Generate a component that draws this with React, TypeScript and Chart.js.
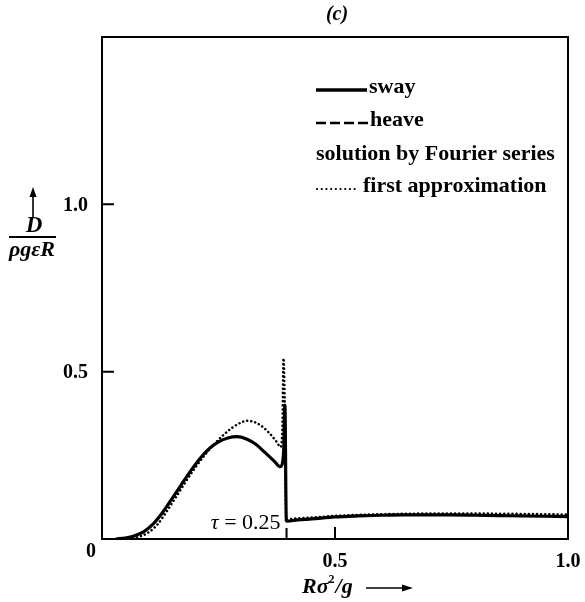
import React, { useEffect, useRef } from "react";
import { Chart, registerables } from "chart.js";

Chart.register(...registerables);

// ---- data ----
const swayX = [0.03, 0.05, 0.07, 0.09, 0.11, 0.13, 0.15, 0.17, 0.19, 0.21, 0.23, 0.25, 0.27, 0.29, 0.31, 0.33, 0.35, 0.37, 0.382, 0.387, 0.39, 0.3925, 0.3955, 0.397, 0.42, 0.45, 0.5, 0.55, 0.6, 0.65, 0.7, 0.75, 0.8, 0.85, 0.9, 0.95, 1.0];
const swayY = [0.0, 0.003, 0.01, 0.022, 0.045, 0.079, 0.12, 0.162, 0.203, 0.24, 0.27, 0.29, 0.302, 0.306, 0.299, 0.283, 0.258, 0.232, 0.216, 0.225, 0.27, 0.4, 0.055, 0.053, 0.057, 0.06, 0.066, 0.069, 0.071, 0.072, 0.072, 0.072, 0.071, 0.07, 0.069, 0.068, 0.067];

const approxX = [0.04, 0.06, 0.08, 0.1, 0.12, 0.14, 0.16, 0.18, 0.2, 0.22, 0.24, 0.26, 0.28, 0.3, 0.31, 0.32, 0.34, 0.36, 0.375, 0.383, 0.387, 0.3895, 0.392, 0.3955, 0.4, 0.45, 0.5, 0.55, 0.6, 0.7, 0.8, 0.9, 0.95, 1.0];
const approxY = [0.0, 0.002, 0.007, 0.02, 0.045, 0.085, 0.128, 0.172, 0.213, 0.25, 0.282, 0.31, 0.333, 0.349, 0.353, 0.352, 0.34, 0.315, 0.29, 0.275, 0.33, 0.54, 0.42, 0.058, 0.059, 0.064, 0.069, 0.072, 0.074, 0.076, 0.076, 0.075, 0.074, 0.073];

const xTicks = [0.5, 1.0];
const yTicks = [0.5, 1.0];
const tauX = 0.396;

const legendItems = ["sway", "heave", "solution by Fourier series", "first approximation"];

const FONT = "'Liberation Serif', 'DejaVu Serif', serif";

export default function App() {
  const ref = useRef<HTMLCanvasElement | null>(null);

  useEffect(() => {
    if (!ref.current) return;
    const toPts = (xs: number[], ys: number[]) => xs.map((x, i) => ({ x, y: ys[i] }));

    const decor = {
      id: "decor",
      afterDraw(chart: any) {
        const ctx = chart.ctx as CanvasRenderingContext2D;
        const a = chart.chartArea;
        const xs = chart.scales.x;
        const ys = chart.scales.y;
        ctx.save();
        ctx.strokeStyle = "#000";
        ctx.fillStyle = "#000";
        ctx.lineWidth = 2;
        ctx.strokeRect(a.left, a.top, a.right - a.left, a.bottom - a.top);
        // inward ticks
        ctx.beginPath();
        yTicks.forEach((v) => {
          const p = ys.getPixelForValue(v);
          ctx.moveTo(a.left, p);
          ctx.lineTo(a.left + 12, p);
        });
        xTicks.forEach((v) => {
          if (v >= 1) return;
          const p = xs.getPixelForValue(v);
          ctx.moveTo(p, a.bottom);
          ctx.lineTo(p, a.bottom - 12);
        });
        const tp = xs.getPixelForValue(tauX);
        ctx.moveTo(tp, a.bottom);
        ctx.lineTo(tp, a.bottom - 11);
        ctx.stroke();

        // origin label
        ctx.font = `bold 20px ${FONT}`;
        ctx.textAlign = "center";
        ctx.textBaseline = "middle";
        ctx.fillText("0", a.left - 11, a.bottom + 13);

        // tau label
        ctx.textAlign = "right";
        const tauTxtX = tp - 6;
        const tauY = a.bottom - 16;
        ctx.font = `22px ${FONT}`;
        const rest = " = 0.25";
        const wRest = ctx.measureText(rest).width;
        ctx.fillText(rest, tauTxtX, tauY);
        ctx.font = `italic 22px ${FONT}`;
        ctx.fillText("τ", tauTxtX - wRest, tauY);

        // legend
        ctx.textAlign = "left";
        ctx.font = `bold 22px ${FONT}`;
        const lx = 316;
        const rows = [89, 122, 154, 186];
        // sway
        ctx.lineWidth = 3.5;
        ctx.setLineDash([]);
        ctx.beginPath();
        ctx.moveTo(lx, rows[0] + 1);
        ctx.lineTo(lx + 51, rows[0] + 1);
        ctx.stroke();
        ctx.fillText(legendItems[0], lx + 53, rows[0] - 2);
        // heave
        ctx.lineWidth = 2.5;
        ctx.setLineDash([10, 4]);
        ctx.beginPath();
        ctx.moveTo(lx, rows[1] + 1);
        ctx.lineTo(lx + 53, rows[1] + 1);
        ctx.stroke();
        ctx.setLineDash([]);
        ctx.fillText(legendItems[1], lx + 54, rows[1] - 2);
        ctx.fillText(legendItems[2], lx, rows[2]);
        // approx
        ctx.lineWidth = 2.2;
        ctx.lineCap = "round";
        ctx.setLineDash([0.1, 4.6]);
        ctx.beginPath();
        ctx.moveTo(lx + 1, rows[3] + 3);
        ctx.lineTo(lx + 42, rows[3] + 3);
        ctx.stroke();
        ctx.setLineDash([]);
        ctx.lineCap = "butt";
        ctx.fillText(legendItems[3], lx + 47, rows[3]);

        // title
        ctx.textAlign = "center";
        ctx.font = `italic bold 20px ${FONT}`;
        ctx.fillText("(c)", 337, 15);

        // y axis title
        ctx.lineWidth = 1.6;
        ctx.beginPath();
        ctx.moveTo(33, 218);
        ctx.lineTo(33, 195);
        ctx.stroke();
        ctx.beginPath();
        ctx.moveTo(33, 187);
        ctx.lineTo(29.5, 197);
        ctx.lineTo(36.5, 197);
        ctx.closePath();
        ctx.fill();
        ctx.font = `italic bold 23px ${FONT}`;
        ctx.fillText("D", 34, 226);
        ctx.lineWidth = 1.8;
        ctx.beginPath();
        ctx.moveTo(9, 237);
        ctx.lineTo(56, 237);
        ctx.stroke();
        ctx.font = `italic bold 22px ${FONT}`;
        ctx.fillText("ρgεR", 32, 250);

        // x axis title
        ctx.textAlign = "left";
        const x0 = 302;
        const ty = 587;
        ctx.font = `italic bold 22px ${FONT}`;
        const t1 = "Rσ";
        ctx.fillText(t1, x0, ty);
        const w1 = ctx.measureText(t1).width;
        ctx.font = `bold 12px ${FONT}`;
        ctx.fillText("2", x0 + w1, ty - 7);
        const w2 = ctx.measureText("2").width;
        ctx.font = `italic bold 22px ${FONT}`;
        ctx.fillText("/g", x0 + w2 + w1 + 1, ty);
        ctx.lineWidth = 1.6;
        ctx.beginPath();
        ctx.moveTo(366, ty + 1);
        ctx.lineTo(404, ty + 1);
        ctx.stroke();
        ctx.beginPath();
        ctx.moveTo(413, ty + 1);
        ctx.lineTo(402, ty - 2.5);
        ctx.lineTo(402, ty + 4.5);
        ctx.closePath();
        ctx.fill();
        ctx.restore();
      },
    };

    const chart = new Chart(ref.current, {
      type: "line",
      data: {
        datasets: [
          {
            label: "sway",
            data: toPts(swayX, swayY),
            borderColor: "#000",
            borderWidth: 3.2,
            pointRadius: 0,
            cubicInterpolationMode: "monotone",
            fill: false,
          },
          {
            label: "first approximation",
            data: toPts(approxX, approxY),
            borderColor: "#000",
            borderWidth: 2.5,
            borderDash: [0.1, 4],
            borderCapStyle: "round",
            pointRadius: 0,
            cubicInterpolationMode: "monotone",
            fill: false,
          },
        ],
      },
      options: {
        responsive: false,
        animation: false,
        layout: { padding: { left: 0, top: 37, right: 17, bottom: 0 } },
        plugins: { legend: { display: false }, tooltip: { enabled: false }, title: { display: false } },
        scales: {
          x: {
            type: "linear",
            min: 0,
            max: 1,
            grid: { display: false },
            border: { display: false },
            afterBuildTicks: (s: any) => {
              s.ticks = xTicks.map((v) => ({ value: v }));
            },
            afterFit: (s: any) => {
              s.height = 63;
            },
            ticks: {
              color: "#000",
              padding: 3,
              font: { family: FONT, size: 20, weight: "bold" },
              callback: (v: any) => Number(v).toFixed(1),
            },
          },
          y: {
            type: "linear",
            min: 0,
            max: 1.5,
            grid: { display: false },
            border: { display: false },
            afterBuildTicks: (s: any) => {
              s.ticks = yTicks.map((v) => ({ value: v }));
            },
            afterFit: (s: any) => {
              s.width = 102;
            },
            ticks: {
              color: "#000",
              padding: 6,
              labelOffset: 1,
              font: { family: FONT, size: 20, weight: "bold" },
              callback: (v: any) => Number(v).toFixed(1),
            },
          },
        },
      },
      plugins: [decor],
    } as any);
    return () => chart.destroy();
  }, []);

  return (
    <div style={{ position: "absolute", left: 0, top: 0, width: 585, height: 602, background: "#fff" }}>
      <canvas ref={ref} width={585} height={602} style={{ width: 585, height: 602 }} />
    </div>
  );
}
